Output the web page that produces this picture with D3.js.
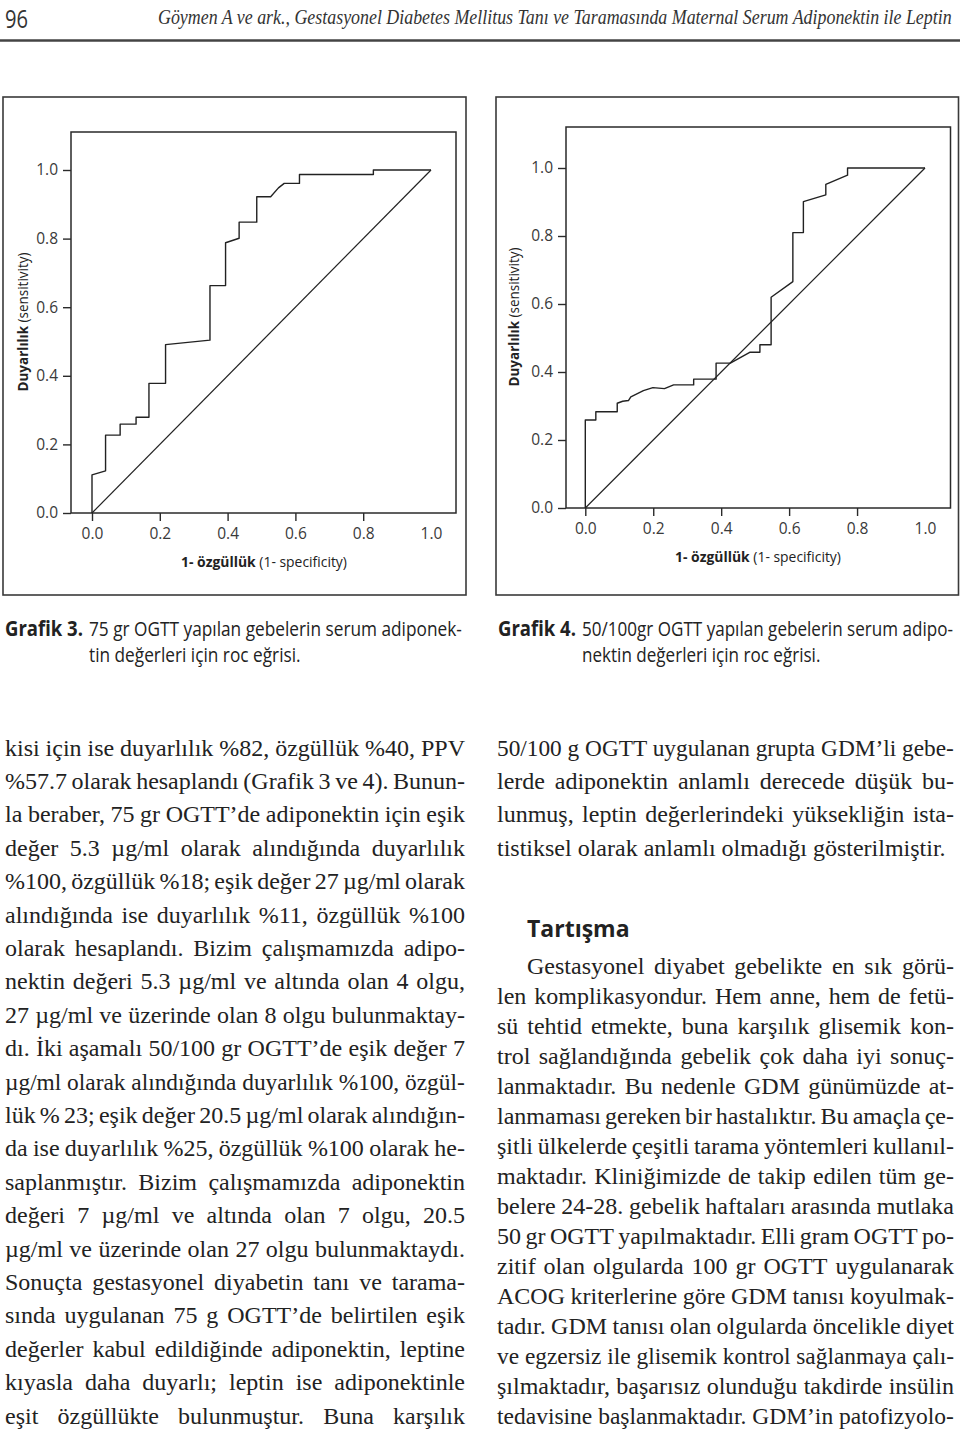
<!DOCTYPE html>
<html>
<head>
<meta charset="utf-8">
<script src="https://cdn.jsdelivr.net/npm/d3@7"></script>
<style>
  html, body { margin: 0; padding: 0; background: #ffffff; }
  svg { display: block; }
</style>
</head>
<body>
<svg id="page" width="960" height="1434"></svg>
<script>
// ---------------- DATA ----------------
const tickValues = [0.0, 0.2, 0.4, 0.6, 0.8, 1.0];

// Grafik 3 — 75 gr OGTT ROC curve (1-specificity, sensitivity)
const roc3FPR = [0, 0, 0.040, 0.040, 0.083, 0.083, 0.130, 0.130, 0.168, 0.168, 0.217, 0.217, 0.348, 0.348, 0.394, 0.394, 0.434, 0.434, 0.486, 0.486, 0.527, 0.550, 0.567, 0.612, 0.612, 0.830, 0.830, 1.0];
const roc3TPR = [0, 0.111, 0.123, 0.227, 0.227, 0.259, 0.259, 0.279, 0.279, 0.378, 0.378, 0.491, 0.504, 0.663, 0.663, 0.788, 0.801, 0.848, 0.848, 0.922, 0.922, 0.948, 0.961, 0.961, 0.987, 0.987, 1.0, 1.0];

// Grafik 4 — 50/100 gr OGTT ROC curve
const roc4FPR = [0, 0, 0.031, 0.031, 0.094, 0.094, 0.110, 0.127, 0.134, 0.171, 0.199, 0.233, 0.260, 0.319, 0.319, 0.385, 0.385, 0.427, 0.484, 0.514, 0.514, 0.547, 0.547, 0.611, 0.611, 0.642, 0.642, 0.708, 0.708, 0.772, 0.772, 1.0];
const roc4TPR = [0, 0.259, 0.259, 0.283, 0.283, 0.308, 0.314, 0.316, 0.327, 0.345, 0.354, 0.351, 0.362, 0.362, 0.379, 0.379, 0.426, 0.426, 0.458, 0.458, 0.480, 0.480, 0.620, 0.666, 0.810, 0.810, 0.901, 0.921, 0.952, 0.979, 1.0, 1.0];

// reference (chance) line
const diagonalFPR = [0, 1];
const diagonalTPR = [0, 1];

// texts
const pageNumber = "96";
const runningTitle = "Göymen A ve ark., Gestasyonel Diabetes Mellitus Tanı ve Taramasında Maternal Serum Adiponektin ile Leptin";
const yTitleBold = "Duyarlılık";
const yTitleRest = " (sensitivity)";
const xTitleBold = "1- özgüllük";
const xTitleRest = " (1- specificity)";
const caption3Bold = "Grafik 3.";
const caption3Lines = ["75 gr OGTT yapılan gebelerin serum adiponek-", "tin değerleri için roc eğrisi."];
const caption4Bold = "Grafik 4.";
const caption4Lines = ["50/100gr OGTT yapılan gebelerin serum adipo-", "nektin değerleri için roc eğrisi."];

const leftColumnLines = [
  "kisi için ise duyarlılık %82, özgüllük %40, PPV",
  "%57.7 olarak hesaplandı (Grafik 3 ve 4). Bunun-",
  "la beraber, 75 gr OGTT’de adiponektin için eşik",
  "değer 5.3 µg/ml olarak alındığında duyarlılık",
  "%100, özgüllük %18; eşik değer 27 µg/ml olarak",
  "alındığında ise duyarlılık %11, özgüllük %100",
  "olarak hesaplandı. Bizim çalışmamızda adipo-",
  "nektin değeri 5.3 µg/ml ve altında olan 4 olgu,",
  "27 µg/ml ve üzerinde olan 8 olgu bulunmaktay-",
  "dı. İki aşamalı 50/100 gr OGTT’de eşik değer 7",
  "µg/ml olarak alındığında duyarlılık %100, özgül-",
  "lük % 23; eşik değer 20.5 µg/ml olarak alındığın-",
  "da ise duyarlılık %25, özgüllük %100 olarak he-",
  "saplanmıştır. Bizim çalışmamızda adiponektin",
  "değeri 7 µg/ml ve altında olan 7 olgu, 20.5",
  "µg/ml ve üzerinde olan 27 olgu bulunmaktaydı.",
  "Sonuçta gestasyonel diyabetin tanı ve tarama-",
  "sında uygulanan 75 g OGTT’de belirtilen eşik",
  "değerler kabul edildiğinde adiponektin, leptine",
  "kıyasla daha duyarlı; leptin ise adiponektinle",
  "eşit özgüllükte bulunmuştur. Buna karşılık"
];
const rightColumnLinesA = [
  "50/100 g OGTT uygulanan grupta GDM’li gebe-",
  "lerde adiponektin anlamlı derecede düşük bu-",
  "lunmuş, leptin değerlerindeki yüksekliğin ista-",
  "tistiksel olarak anlamlı olmadığı gösterilmiştir."
];
const sectionHeading = "Tartışma";
const rightColumnLinesB = [
  "Gestasyonel diyabet gebelikte en sık görü-",
  "len komplikasyondur. Hem anne, hem de fetü-",
  "sü tehtid etmekte, buna karşılık glisemik kon-",
  "trol sağlandığında gebelik çok daha iyi sonuç-",
  "lanmaktadır. Bu nedenle GDM günümüzde at-",
  "lanmaması gereken bir hastalıktır. Bu amaçla çe-",
  "şitli ülkelerde çeşitli tarama yöntemleri kullanıl-",
  "maktadır. Kliniğimizde de takip edilen tüm ge-",
  "belere 24-28. gebelik haftaları arasında mutlaka",
  "50 gr OGTT yapılmaktadır. Elli gram OGTT po-",
  "zitif olan olgularda 100 gr OGTT uygulanarak",
  "ACOG kriterlerine göre GDM tanısı koyulmak-",
  "tadır. GDM tanısı olan olgularda öncelikle diyet",
  "ve egzersiz ile glisemik kontrol sağlanmaya çalı-",
  "şılmaktadır, başarısız olunduğu takdirde insülin",
  "tedavisine başlanmaktadır. GDM’in patofizyolo-"
];

// ---------------- DRAWING ----------------
const SERIF = "'Liberation Serif', 'DejaVu Serif', serif";
const SANS = "'Open Sans', 'Noto Sans', sans-serif";
const INK = "#222";
const svg = d3.select("#page");

// Text placed at (x, y) and squeezed horizontally (via transform) to a target width.
// mode: "max" = only shrink if wider; "exact" = scale to exactly target.
function scaledText(parent, x, y, target, mode, build, rotate) {
  const g = parent.append("g");
  const t = g.append("text").attr("x", 0).attr("y", 0);
  build(t);
  const w = t.node().getComputedTextLength();
  let sx = target / w;
  if (mode === "max") sx = Math.min(1, sx);
  g.attr("transform", `translate(${x},${y})${rotate ? " rotate(-90)" : ""} scale(${sx},1)`);
  return { g, t, w, sx };
}

// header
scaledText(svg, 5, 27.5, 23, "exact", t => t
  .attr("font-family", SANS).attr("font-size", 26).attr("fill", "#333").text(pageNumber));
scaledText(svg, 158, 23.5, 794, "exact", t => t
  .attr("font-family", SERIF).attr("font-style", "italic").attr("font-size", 20).attr("fill", "#333")
  .text(runningTitle));
svg.append("line").attr("x1", 0).attr("x2", 960).attr("y1", 40.5).attr("y2", 40.5)
  .attr("stroke", "#444").attr("stroke-width", 2.4);

function twoPart(bold, rest, size) {
  return t => {
    t.attr("font-family", SANS).attr("font-size", size).attr("fill", INK).attr("text-anchor", "middle");
    t.append("tspan").attr("font-weight", "bold").text(bold);
    t.append("tspan").text(rest);
  };
}

function drawROC(cfg) {
  const g = svg.append("g");
  g.append("rect")
    .attr("x", cfg.box[0]).attr("y", cfg.box[1])
    .attr("width", cfg.box[2] - cfg.box[0]).attr("height", cfg.box[3] - cfg.box[1])
    .attr("fill", "none").attr("stroke", "#3a3a3a").attr("stroke-width", 1.6);

  const x = d3.scaleLinear().domain([0, 1]).range(cfg.xRange);
  const y = d3.scaleLinear().domain([0, 1]).range(cfg.yRange);

  g.append("rect")
    .attr("x", cfg.frame[0]).attr("y", cfg.frame[1])
    .attr("width", cfg.frame[2] - cfg.frame[0]).attr("height", cfg.frame[3] - cfg.frame[1])
    .attr("fill", "none").attr("stroke", "#2a2a2a").attr("stroke-width", 1.5);

  const yAxis = d3.axisLeft(y).tickValues(tickValues).tickFormat(d3.format(".1f"))
    .tickSize(8).tickPadding(5);
  const ya = g.append("g").attr("transform", `translate(${cfg.frame[0]},0)`).call(yAxis);
  ya.select(".domain").remove();

  const xAxis = d3.axisBottom(x).tickValues(tickValues).tickFormat(d3.format(".1f"))
    .tickSize(8).tickPadding(7);
  const xa = g.append("g").attr("transform", `translate(0,${cfg.frame[3]})`).call(xAxis);
  xa.select(".domain").remove();
  xa.selectAll(".tick").filter(d => d === 1).select("line").remove();

  [ya, xa].forEach(a => {
    a.attr("font-family", SANS).attr("font-size", 15.5);
    a.selectAll(".tick line").attr("stroke", "#2a2a2a").attr("stroke-width", 1.4);
    a.selectAll(".tick text").attr("fill", "#3a3a3a");
  });

  const line = d3.line().x(d => x(d[0])).y(d => y(d[1]));
  g.append("path").datum(d3.zip(diagonalFPR, diagonalTPR))
    .attr("d", line).attr("fill", "none").attr("stroke", "#222").attr("stroke-width", 1.2);
  g.append("path").datum(d3.zip(cfg.fpr, cfg.tpr))
    .attr("d", line).attr("fill", "none").attr("stroke", "#222").attr("stroke-width", 1.4)
    .attr("stroke-linejoin", "round");

  scaledText(g, cfg.yTitle[0], cfg.yTitle[1], 139, "max", twoPart(yTitleBold, yTitleRest, 15), true);
  scaledText(g, cfg.xTitle[0], cfg.xTitle[1], 166, "max", twoPart(xTitleBold, xTitleRest, 15), false);

  // caption: bold label, then the text, second line aligned under the text
  const c = cfg.cap;
  const capFont = 20.5;
  const rest1 = scaledText(g, c.x2, c.y1, c.right - c.x2, "exact", t => t
    .attr("font-family", SANS).attr("font-size", capFont).attr("fill", INK).text(cfg.capLines[0]));
  scaledText(g, c.x1, c.y1, c.x2 - c.x1 - 6, "max", t => t
    .attr("font-family", SANS).attr("font-weight", "bold").attr("font-size", capFont).attr("fill", INK)
    .text(cfg.capBold));
  const l2 = g.append("g").attr("transform", `translate(${c.x2},${c.y2}) scale(${rest1.sx},1)`);
  l2.append("text").attr("x", 0).attr("y", 0)
    .attr("font-family", SANS).attr("font-size", capFont).attr("fill", INK).text(cfg.capLines[1]);
}

drawROC({
  box: [3, 97, 466, 595], frame: [71, 132, 456, 513],
  xRange: [92, 431], yRange: [513, 170],
  fpr: roc3FPR, tpr: roc3TPR,
  yTitle: [27.5, 322], xTitle: [264, 566.5],
  capBold: caption3Bold, capLines: caption3Lines,
  cap: { x1: 5, y1: 636, right: 462, x2: 89, y2: 662 }
});
drawROC({
  box: [496, 97, 958.5, 595], frame: [566, 127, 950.5, 508],
  xRange: [585.3, 925], yRange: [508, 168],
  fpr: roc4FPR, tpr: roc4TPR,
  yTitle: [519, 317], xTitle: [758, 561.5],
  capBold: caption4Bold, capLines: caption4Lines,
  cap: { x1: 498, y1: 636, right: 953, x2: 582, y2: 662 }
});

// ---------------- BODY TEXT ----------------
const BODY_SIZE = 24;
function textLine(x0, x1, y, str, justify) {
  const g = svg.append("g");
  const words = str.split(" ");
  const probe = g.append("text").attr("font-family", SERIF).attr("font-size", BODY_SIZE);
  const widths = words.map(w => { probe.text(w); return probe.node().getComputedTextLength(); });
  probe.remove();
  const total = d3.sum(widths);
  const avail = x1 - x0;
  const gap = (avail - total) / Math.max(1, words.length - 1);
  if (!justify || words.length < 2 || gap < 4) {
    scaledText(g, x0, y, avail, justify ? "exact" : "max", t => t
      .attr("font-family", SERIF).attr("font-size", BODY_SIZE).attr("fill", INK).text(str));
    return;
  }
  let cx = x0;
  words.forEach((w, i) => {
    g.append("text").attr("x", cx).attr("y", y)
      .attr("font-family", SERIF).attr("font-size", BODY_SIZE).attr("fill", INK).text(w);
    cx += widths[i] + gap;
  });
}

leftColumnLines.forEach((s, i) => textLine(5, 465, 755.5 + i * 33.4, s, true));
rightColumnLinesA.forEach((s, i) => textLine(497, 954, 755.5 + i * 33.4, s, i < rightColumnLinesA.length - 1));
svg.append("text").attr("x", 527).attr("y", 936.5)
  .attr("font-family", SANS).attr("font-weight", "bold").attr("font-size", 23).attr("fill", INK)
  .text(sectionHeading);
rightColumnLinesB.forEach((s, i) => textLine(i === 0 ? 527 : 497, 954, 973.5 + i * 30.05, s, true));
</script>
</body>
</html>
